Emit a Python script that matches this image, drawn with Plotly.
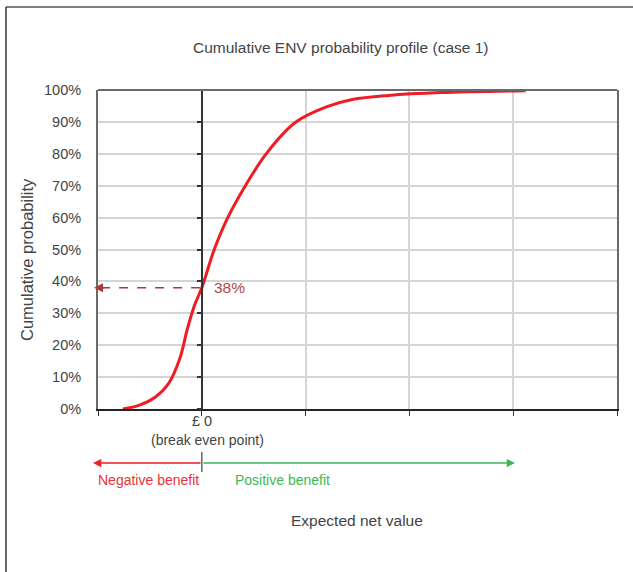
import plotly.graph_objects as go

# Data
env_values = [-0.76, -0.6, -0.45, -0.32, -0.21, -0.14, -0.07, 0.0, 0.12, 0.25, 0.42, 0.62, 0.9, 1.2, 1.45, 1.8, 2.3, 3.12]
cum_prob = [0, 1.2, 3.7, 8, 16, 25, 32.5, 38, 50, 60, 70, 80, 89.8, 94.7, 97, 98.3, 99.2, 99.8]
break_even_x = 0
break_even_prob = 38
y_ticks = list(range(0, 101, 10))
y_tick_labels = [f"{v}%" for v in y_ticks]
x_ticks = [-1, 0, 1, 2, 3, 4]
x_tick_labels = ["", "", "", "", "", ""]
zero_label = "£ 0"

FONT = "Liberation Sans, Arial, sans-serif"
TXT = "#444444"
RED = "#ee1c25"
DARKRED = "#a83a3a"
GREEN = "#3cb85a"

W, H = 633, 572
L, R, T, B = 98, 16, 90, 163
pw, ph = W - L - R, H - T - B

def px2fx(px):
    return (px - L) / pw

def py2fy(py):
    return (H - B - py) / ph

fig = go.Figure()

fig.add_trace(go.Scatter(
    x=env_values, y=cum_prob, mode="lines",
    line=dict(color=RED, width=3, shape="spline", smoothing=1.0),
    hoverinfo="skip", showlegend=False))

# dashed guide from break-even to axis
fig.add_trace(go.Scatter(
    x=[x_ticks[0] + 0.03, break_even_x], y=[break_even_prob, break_even_prob], mode="lines",
    line=dict(color=DARKRED, width=1.5, dash="dash"),
    hoverinfo="skip", showlegend=False, cliponaxis=False))

# dummy trace on y2 so the crossing axis renders
fig.add_trace(go.Scatter(x=[None], y=[None], yaxis="y2", showlegend=False, hoverinfo="skip"))

fig.update_layout(
    width=W, height=H,
    margin=dict(l=L, r=R, t=T, b=B),
    paper_bgcolor="white", plot_bgcolor="white",
    font=dict(family=FONT, color=TXT, size=13),
    xaxis=dict(range=[x_ticks[0], x_ticks[-1]], tickvals=x_ticks, ticktext=x_tick_labels,
               showgrid=True, gridcolor="#d4d4d4", gridwidth=1.5,
               zeroline=False, showline=True, linecolor="#222222", linewidth=1.5,
               ticks="outside", ticklen=5, tickcolor="#333333", tickwidth=1.2),
    yaxis=dict(range=[0, 100], tickvals=y_ticks, ticktext=y_tick_labels,
               showgrid=True, gridcolor="#d4d4d4", gridwidth=1.5,
               zeroline=False, showline=True, linecolor="#6a6a6a", linewidth=2,
               mirror=True, ticks="", ticklabelstandoff=12,
               tickfont=dict(size=14.5, color=TXT)),
    yaxis2=dict(range=[0, 100], tickvals=y_ticks, overlaying="y", anchor="free",
                position=(break_even_x - x_ticks[0]) / (x_ticks[-1] - x_ticks[0]),
                side="left", showticklabels=False, showgrid=False, zeroline=False,
                showline=True, linecolor="#333333", linewidth=1.5,
                ticks="outside", ticklen=4, tickcolor="#333333", tickwidth=1.5),
)

shapes = []
# top border of plot (gray)
shapes.append(dict(type="line", xref="paper", yref="paper", x0=0, x1=1, y0=1, y1=1,
                   line=dict(color="#6a6a6a", width=2)))
# outer frame (top & left)
shapes.append(dict(type="line", xref="paper", yref="paper", x0=px2fx(6), x1=px2fx(640),
                   y0=py2fy(7), y1=py2fy(7), line=dict(color="#555555", width=1.5)))
shapes.append(dict(type="line", xref="paper", yref="paper", x0=px2fx(6), x1=px2fx(6),
                   y0=py2fy(7), y1=py2fy(580), line=dict(color="#333333", width=1.5)))
# small divider tick at break-even on benefit arrows
shapes.append(dict(type="line", xref="x", yref="paper", x0=break_even_x, x1=break_even_x,
                   y0=py2fy(452), y1=py2fy(472), line=dict(color="#666666", width=1.5)))
fig.update_layout(shapes=shapes)

def txt(text, x, y, size, color=TXT, xref="paper", yref="paper", **kw):
    d = dict(text=text, xref=xref, yref=yref, x=x, y=y, showarrow=False,
             xanchor="center", yanchor="middle", font=dict(size=size, color=color, family=FONT))
    d.update(kw)
    return d

ann = []
ann.append(txt("Cumulative ENV probability profile (case 1)", px2fx(340), py2fy(47), 15.5))
ann.append(txt("Cumulative probability", px2fx(27), py2fy(260), 16.5, textangle=-90))
ann.append(txt("Expected net value", px2fx(357), py2fy(520), 15.5))
ann.append(txt(zero_label, break_even_x, py2fy(421), 14.5, xref="x"))
ann.append(txt("(break even point)", px2fx(207), py2fy(440), 14))
# arrowhead at the y axis for the 38% guide
ann.append(dict(text="", xref="paper", yref="y", x=px2fx(94), y=break_even_prob,
                ax=12, ay=0, showarrow=True, arrowhead=2, arrowsize=1.2, arrowwidth=1.5,
                arrowcolor=DARKRED))
ann.append(txt(f"{break_even_prob}%", px2fx(212), break_even_prob, 15.5, color="#b54545",
               yref="y", xanchor="left"))
# benefit arrows
arrow_y = py2fy(463)
ann.append(dict(text="", xref="paper", yref="paper", x=px2fx(93), y=arrow_y,
                ax=109, ay=0, showarrow=True, arrowhead=2, arrowsize=1.1, arrowwidth=1.5,
                arrowcolor=RED))
ann.append(dict(text="", xref="paper", yref="paper", x=px2fx(515), y=arrow_y,
                ax=-313, ay=0, showarrow=True, arrowhead=2, arrowsize=1.1, arrowwidth=1.5,
                arrowcolor=GREEN))
ann.append(txt("Negative benefit", px2fx(148), py2fy(480), 14, color="#e8333a"))
ann.append(txt("Positive benefit", px2fx(282), py2fy(480), 14, color=GREEN))
fig.update_layout(annotations=ann)

fig.write_html("out.html", config={"displayModeBar": False},
               post_script="document.body.style.margin='0px';document.body.style.overflow='hidden';")
